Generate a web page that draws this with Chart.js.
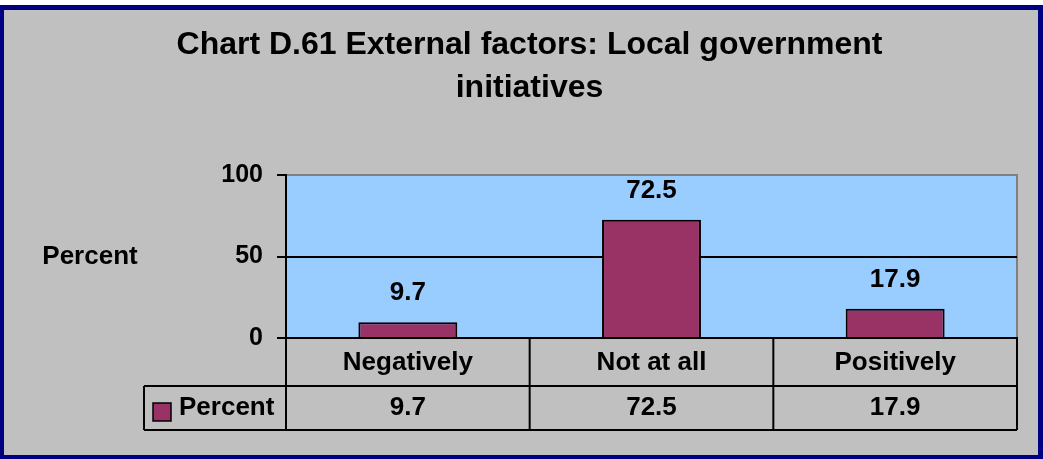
<!DOCTYPE html>
<html>
<head>
<meta charset="utf-8">
<style>
  html, body { margin: 0; padding: 0; background: #ffffff; }
  #wrap { width: 1043px; height: 459px; }
</style>
<script src="https://cdn.jsdelivr.net/npm/chart.js@4.4.1/dist/chart.umd.min.js"></script>
</head>
<body>
<div id="wrap"><canvas id="c" width="1043" height="459"></canvas></div>
<script>
// ---- data ----
const titleLines = ["Chart D.61 External factors: Local government", "initiatives"];
const categories = ["Negatively", "Not at all", "Positively"];
const seriesName = "Percent";
const percentValues = [9.7, 72.5, 17.9];
const yTickValues = [0, 50, 100];
const axisTitle = "Percent";

const FONT = '"Liberation Sans", Arial, Helvetica, sans-serif';
const BAR_COLOR = '#993366';
const PAD_LEFT = 42;

const framePlugin = {
  id: 'frame',
  beforeDraw(chart) {
    const ctx = chart.ctx;
    const W = chart.width, H = chart.height;
    ctx.save();
    ctx.fillStyle = '#ffffff';
    ctx.fillRect(0, 0, W, H);
    ctx.fillStyle = '#000080';
    ctx.fillRect(0, 5, W, H - 5);
    ctx.fillStyle = '#c0c0c0';
    ctx.fillRect(4, 10, W - 9, H - 14);
    const a = chart.chartArea;
    ctx.fillStyle = '#99ccff';
    ctx.fillRect(a.left, a.top, a.right - a.left, a.bottom - a.top);
    // plot border (top/right)
    ctx.strokeStyle = '#808080';
    ctx.lineWidth = 2;
    ctx.beginPath();
    ctx.moveTo(a.left, a.top);
    ctx.lineTo(a.right, a.top);
    ctx.lineTo(a.right, a.bottom);
    ctx.stroke();
    // horizontal axis title
    ctx.fillStyle = '#000';
    ctx.font = 'bold 26px ' + FONT;
    ctx.textAlign = 'center';
    ctx.textBaseline = 'middle';
    const ys = chart.scales.y;
    ctx.fillText(axisTitle, 90, ys.getPixelForValue(50));
    ctx.restore();
  }
};

const labelPlugin = {
  id: 'barLabels',
  afterDatasetsDraw(chart) {
    const ctx = chart.ctx;
    const meta = chart.getDatasetMeta(0);
    ctx.save();
    ctx.fillStyle = '#000';
    ctx.font = 'bold 26px ' + FONT;
    ctx.textAlign = 'center';
    ctx.textBaseline = 'middle';
    meta.data.forEach((bar, i) => {
      ctx.fillText(String(percentValues[i]), bar.x, bar.y - 29);
    });
    ctx.restore();
  }
};

const tablePlugin = {
  id: 'dataTable',
  afterDraw(chart) {
    const ctx = chart.ctx;
    const xs = chart.scales.x;
    const a = chart.chartArea;
    const n = categories.length;
    const half = (a.right - a.left) / n / 2;
    const row1 = a.bottom;
    const row2 = a.bottom + 48;
    const row3 = a.bottom + 92;
    const legendLeft = 144;
    ctx.save();
    ctx.strokeStyle = '#000';
    ctx.lineWidth = 2;
    ctx.beginPath();
    ctx.moveTo(legendLeft, row2); ctx.lineTo(a.right, row2);
    ctx.moveTo(legendLeft, row3); ctx.lineTo(a.right, row3);
    ctx.moveTo(legendLeft, row2); ctx.lineTo(legendLeft, row3);
    for (let i = 0; i < n; i++) {
      const xl = xs.getPixelForValue(i) - half;
      ctx.moveTo(xl, row1); ctx.lineTo(xl, row3);
    }
    ctx.moveTo(a.right, row1); ctx.lineTo(a.right, row3);
    ctx.stroke();
    ctx.fillStyle = '#000';
    ctx.font = 'bold 26px ' + FONT;
    ctx.textAlign = 'center';
    ctx.textBaseline = 'middle';
    const midY = (row2 + row3) / 2;
    for (let i = 0; i < n; i++) {
      ctx.fillText(String(percentValues[i]), xs.getPixelForValue(i), midY);
    }
    ctx.fillStyle = BAR_COLOR;
    ctx.fillRect(153, 403, 18, 18);
    ctx.lineWidth = 1.5;
    ctx.strokeRect(153, 403, 18, 18);
    ctx.fillStyle = '#000';
    ctx.textAlign = 'left';
    ctx.fillText(seriesName, 179, midY);
    ctx.restore();
  }
};

new Chart(document.getElementById('c'), {
  type: 'bar',
  data: {
    labels: categories,
    datasets: [{
      label: seriesName,
      data: percentValues,
      backgroundColor: BAR_COLOR,
      borderColor: '#000',
      borderWidth: 2,
      borderSkipped: 'start',
      categoryPercentage: 1,
      barPercentage: 0.406
    }]
  },
  options: {
    responsive: false,
    animation: false,
    devicePixelRatio: 1,
    layout: { padding: { left: PAD_LEFT, right: 26, top: 0, bottom: 0 } },
    plugins: {
      legend: { display: false },
      tooltip: { enabled: false },
      title: {
        display: true,
        text: titleLines,
        color: '#000',
        font: { family: FONT, size: 32, weight: 'bold', lineHeight: 43 / 32 },
        padding: { top: 23.5, bottom: 65.5 }
      }
    },
    scales: {
      x: {
        grid: { display: false, drawTicks: false },
        border: { display: true, color: '#000', width: 2 },
        ticks: { color: '#000', font: { family: FONT, size: 26, weight: 'bold' }, padding: 9 },
        afterFit(scale) { scale.height = 121; }
      },
      y: {
        min: 0, max: 100,
        afterBuildTicks(scale) { scale.ticks = yTickValues.map(v => ({ value: v })); },
        grid: {
          color: (c) => c.tick && c.tick.value === 100 ? '#808080' : (c.tick && c.tick.value === 0 ? 'rgba(0,0,0,0)' : '#000'),
          lineWidth: 2,
          tickColor: '#000',
          tickLength: 9
        },
        border: { display: true, color: '#000', width: 2 },
        ticks: { color: '#000', font: { family: FONT, size: 25, weight: 'bold' }, padding: 14 },
        afterFit(scale) { scale.width = 286 - PAD_LEFT; }
      }
    }
  },
  plugins: [framePlugin, labelPlugin, tablePlugin]
});
</script>
</body>
</html>
